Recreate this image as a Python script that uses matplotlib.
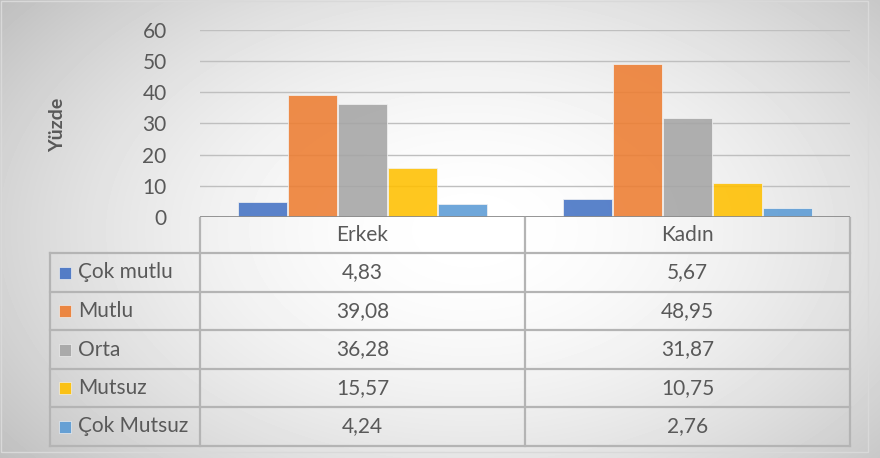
import numpy as np
import matplotlib.pyplot as plt
from matplotlib.patches import Rectangle

plt.rcParams['font.family'] = ['Lato', 'DejaVu Sans']

# data
groups = ['Erkek', 'Kadın']
series = ['Çok mutlu', 'Mutlu', 'Orta', 'Mutsuz', 'Çok Mutsuz']
values = [
    [4.83, 5.67],
    [39.08, 48.95],
    [36.28, 31.87],
    [15.57, 10.75],
    [4.24, 2.76],
]
labels = [
    ['4,83', '5,67'],
    ['39,08', '48,95'],
    ['36,28', '31,87'],
    ['15,57', '10,75'],
    ['4,24', '2,76'],
]
colors = ['#4472C4', '#ED7D31', '#A5A5A5', '#FFC000', '#5B9BD5']
yticks = [0, 10, 20, 30, 40, 50, 60]

W, H = 880, 458
txt = '#595959'
line = '#b4b4b4'
fs = 15

fig = plt.figure(figsize=(W / 100, H / 100), dpi=100)

# background: radial grey gradient
bg = fig.add_axes([0, 0, 1, 1], zorder=0)
yy, xx = np.mgrid[0:H, 0:W]
r = np.sqrt(((xx - 470) / 520) ** 2 + ((yy - 230) / 330) ** 2)
shade = np.clip(1.0 - 0.2 * r ** 1.8, 0, 1)
bg.imshow(shade, cmap='gray', vmin=0, vmax=1, extent=[0, W, H, 0], aspect='auto')
bg.set_xlim(0, W)
bg.set_ylim(H, 0)
bg.axis('off')


def px(x0, y0, x1, y1):
    return [x0 / W, 1 - y1 / H, (x1 - x0) / W, (y1 - y0) / H]


# bar chart
ax = fig.add_axes(px(200, 30, 850, 217), zorder=2)
ax.patch.set_alpha(0)
n = len(series)
bw = 50 / 325
x = np.arange(len(groups))
for i, (s, v, c) in enumerate(zip(series, values, colors)):
    ax.bar(x + (i - (n - 1) / 2) * bw, v, width=bw * 0.97, color=c, alpha=0.88,
           edgecolor='#f2f2f2', linewidth=0.6, zorder=3)
ax.set_xlim(-0.5, 1.5)
ax.set_ylim(0, 60)
ax.set_yticks(yticks)
ax.set_yticklabels([str(t) for t in yticks], fontsize=fs, color=txt)
ax.tick_params(axis='y', length=0, pad=24)
ax.set_xticks([])
ax.grid(axis='y', color='#bfbfbf', linewidth=1.0, zorder=1)
for sp in ax.spines.values():
    sp.set_visible(False)
ax.axhline(0, color='#8c8c8c', linewidth=2, zorder=4)
fig.text(58 / W, 1 - 125 / H, 'Yüzde', rotation=90, ha='center', va='center',
         fontsize=14, fontweight='bold', color=txt)

# data table
tb = fig.add_axes([0, 0, 1, 1], zorder=3)
tb.patch.set_alpha(0)
tb.set_xlim(0, W)
tb.set_ylim(H, 0)
tb.axis('off')

cols = [200, 525, 850]
rows = [253, 292, 330, 369, 407, 446]
for cx in cols:
    tb.plot([cx, cx], [218, rows[-1]], color=line, lw=1.6)
tb.plot([50, 50], [rows[0], rows[-1]], color=line, lw=1.6)
for ry in rows:
    tb.plot([50, 850], [ry, ry], color=line, lw=1.6)

for j, g in enumerate(groups):
    tb.text((cols[j] + cols[j + 1]) / 2, (217 + rows[0]) / 2, g, ha='center',
            va='center', fontsize=fs, color=txt)
for i, s in enumerate(series):
    yc = (rows[i] + rows[i + 1]) / 2
    tb.add_patch(Rectangle((59, yc - 6), 12, 12, facecolor=colors[i], alpha=0.9,
                           edgecolor='#f2f2f2', lw=0.5))
    tb.text(78, yc, s, ha='left', va='center', fontsize=fs, color=txt)
    for j in range(len(groups)):
        tb.text((cols[j] + cols[j + 1]) / 2, yc, labels[i][j], ha='center',
                va='center', fontsize=fs, color=txt)

# chart frame
tb.add_patch(Rectangle((1, 1), 867, 451, facecolor='none', edgecolor='#d9d9d9', lw=1))

fig.savefig('out.png', dpi=100)
